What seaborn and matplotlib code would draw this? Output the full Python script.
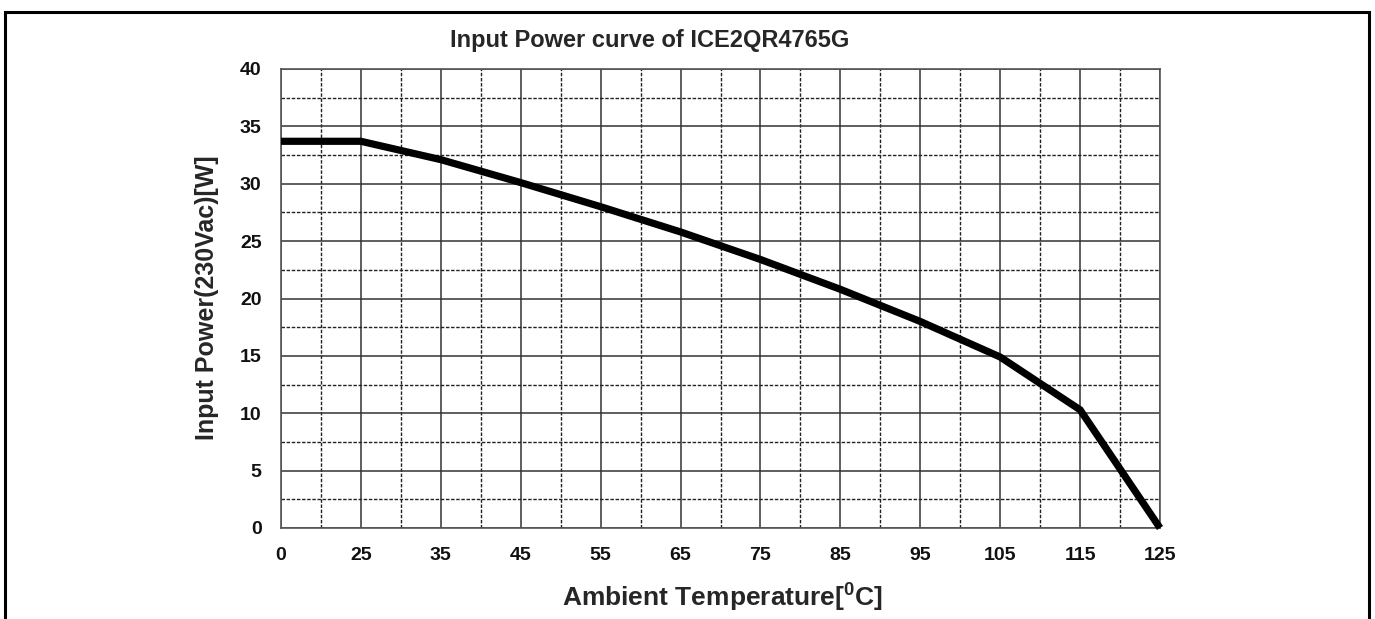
import numpy as np
import pandas as pd
import seaborn as sns
import matplotlib.pyplot as plt
from matplotlib.patches import Rectangle
from matplotlib.ticker import MultipleLocator

# values
temps = [0, 25, 35, 45, 55, 65, 75, 85, 95, 105, 115, 125]
power = [33.7, 33.7, 32.1, 30.1, 28.0, 25.8, 23.4, 20.8, 18.0, 14.9, 10.3, 0.0]
y_ticks = [0, 5, 10, 15, 20, 25, 30, 35, 40]

df = pd.DataFrame({'pos': np.arange(len(temps)), 'temp': temps, 'power': power})

sns.set_style('white')
plt.rcParams['font.family'] = ['Liberation Sans', 'DejaVu Sans']

fig = plt.figure(figsize=(13.75, 6.19), dpi=100)
ax = fig.add_axes([281 / 1375, 1 - 528 / 619, 879 / 1375, 459 / 619])

sns.lineplot(data=df, x='pos', y='power', color='black', linewidth=5.2,
             ax=ax, zorder=5, clip_on=False, solid_capstyle='butt',
             solid_joinstyle='miter')

ax.set_xlim(0, len(temps) - 1)
ax.set_ylim(0, 40)
ax.set_xticks(df['pos'])
ax.set_xticklabels([str(t) for t in temps])
ax.set_yticks(y_ticks)
ax.xaxis.set_minor_locator(MultipleLocator(0.5))
ax.yaxis.set_minor_locator(MultipleLocator(2.5))

ax.grid(which='major', color='#333333', linewidth=1.1, linestyle='-')
ax.grid(which='minor', color='#222222', linewidth=1.0, linestyle=(0, (2.5, 1.2)))
ax.set_axisbelow(True)
for s in ax.spines.values():
    s.set_color('#555555')
    s.set_linewidth(1.2)

ax.tick_params(which='both', length=0)
ax.tick_params(axis='x', pad=14, labelsize=14)
ax.tick_params(axis='y', pad=14, labelsize=14)
for lab in ax.get_xticklabels() + ax.get_yticklabels():
    lab.set_fontweight('bold')
    lab.set_color('#111111')
ax.set_xlabel('')
ax.set_ylabel('')

fig.text(650 / 1375, 1 - 40 / 619, 'Input Power curve of ICE2QR4765G',
         ha='center', va='center', fontsize=17, fontweight='bold')
fig.text(722 / 1375, 1 - 598 / 619, 'Ambient Temperature[$\\mathregular{^0}$C]',
         ha='center', va='center', fontsize=19, fontweight='bold')
fig.text(207 / 1375, 1 - 298 / 619, 'Input Power(230Vac)[W]', rotation=90,
         ha='center', va='center', fontsize=18, fontweight='bold')

# outer frame around the figure
fig.patches.append(Rectangle((5 / 1375, -0.05), 1364 / 1375, 1.05 - 12 / 619,
                             transform=fig.transFigure, fill=False,
                             edgecolor='black', linewidth=2.2))

fig.savefig('out.png', dpi=100)
